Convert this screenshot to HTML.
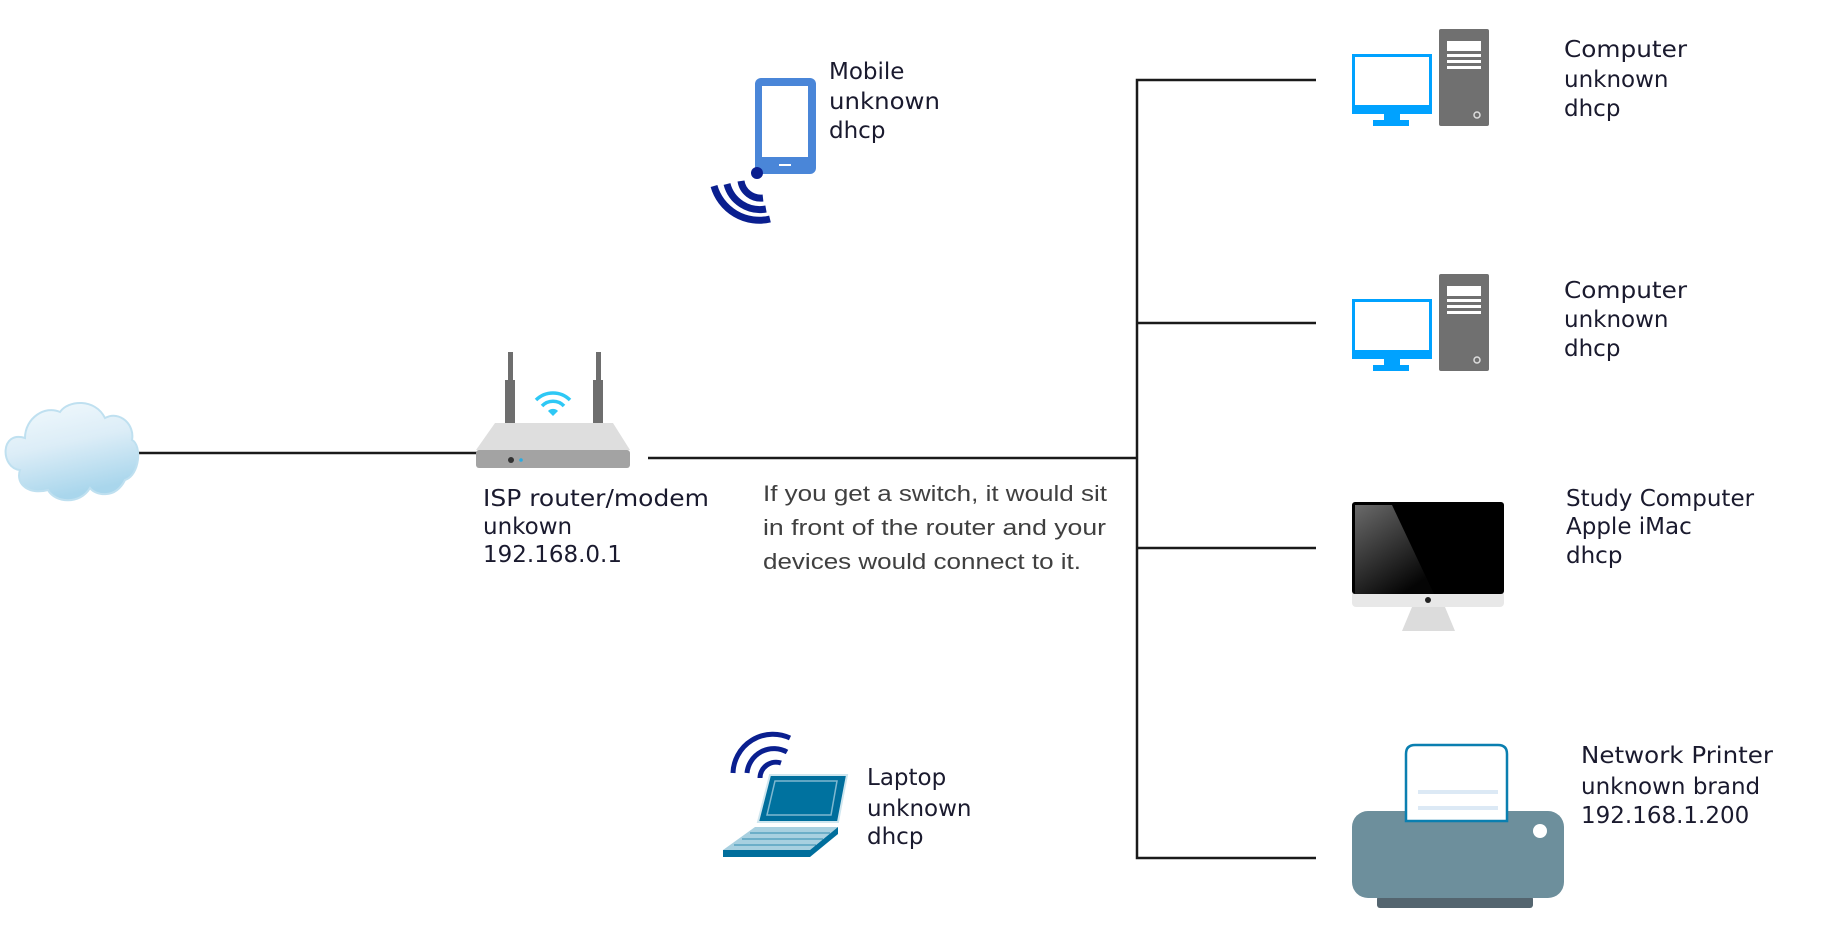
<!DOCTYPE html>
<html><head><meta charset="utf-8"><style>html,body{margin:0;padding:0;background:#fff}svg{display:block}</style></head>
<body>
<svg width="1827" height="945" viewBox="0 0 1827 945" xmlns="http://www.w3.org/2000/svg">
<defs>
<linearGradient id="cl" x1="0" y1="0" x2="0.3" y2="1"><stop offset="0" stop-color="#f3fafd"/><stop offset="0.5" stop-color="#dcedf7"/><stop offset="1" stop-color="#a9d6ec"/></linearGradient>
<linearGradient id="scr" x1="0" y1="0" x2="0.6" y2="1"><stop offset="0" stop-color="#6a6a6a"/><stop offset="1" stop-color="#050505"/></linearGradient>
</defs>
<g stroke="#1a1a1a" stroke-width="2.5" fill="none">
<line x1="137" y1="453" x2="477" y2="453"/>
<line x1="648" y1="458" x2="1137" y2="458"/>
<polyline points="1316,80 1137,80 1137,858 1316,858"/>
<line x1="1137" y1="323" x2="1316" y2="323"/>
<line x1="1137" y1="548" x2="1316" y2="548"/>
</g>
<path d="M20,470 C0,468 0,430 25,438 C25,418 45,405 60,412 C68,400 95,398 105,418 C120,410 135,425 132,440 C142,445 140,475 125,480 C115,500 95,495 90,488 C80,505 55,503 48,490 C30,495 15,485 20,470 Z" fill="url(#cl)" stroke="#bfe0f0" stroke-width="2"/>
<rect x="505" y="380" width="10" height="45" fill="#6e6e6e"/><rect x="508" y="352" width="5" height="30" fill="#6e6e6e"/>
<rect x="593" y="380" width="10" height="45" fill="#6e6e6e"/><rect x="596" y="352" width="5" height="30" fill="#6e6e6e"/>
<polygon points="495,423 613,423 630,450 476,450" fill="#dedede"/>
<rect x="476" y="450" width="154" height="18" rx="3" fill="#a3a3a3"/>
<circle cx="511" cy="460" r="3" fill="#333"/><circle cx="521" cy="460" r="1.8" fill="#29abe2"/>
<g fill="none" stroke="#2ec8f5" stroke-width="3.5"><path d="M536,400 A24,24 0 0 1 570,400"/><path d="M542,406 A15,15 0 0 1 564,406"/></g>
<path d="M548,411 A7,7 0 0 1 558,411 L553,416 Z" fill="#2ec8f5"/>
<rect x="755" y="78" width="61" height="96" rx="6" fill="#4a86d8"/>
<rect x="762" y="86" width="46" height="71" fill="#fff"/>
<rect x="779" y="164" width="12" height="2" fill="#fff"/>
<circle cx="757" cy="173" r="6" fill="#0a1f8f"/>
<g fill="none" stroke="#0a1f8f" stroke-width="7"><path d="M741,181 A20,20 0 0 0 763,198"/><path d="M727,184 A34,34 0 0 0 766,209"/><path d="M714,186 A47,47 0 0 0 770,219"/></g>
<g id="pc">
<rect x="1352" y="54" width="80" height="60" fill="#00a2ff"/><rect x="1355" y="57" width="74" height="48" fill="#fff"/>
<rect x="1384" y="114" width="16" height="7" fill="#00a2ff"/><rect x="1373" y="120" width="36" height="6" fill="#00a2ff"/>
<rect x="1439" y="29" width="50" height="97" rx="2" fill="#707070"/>
<rect x="1447" y="41" width="34" height="10" fill="#fff"/><rect x="1447" y="54" width="34" height="3" fill="#fff"/><rect x="1447" y="60" width="34" height="3" fill="#fff"/><rect x="1447" y="66" width="34" height="3" fill="#fff"/>
<circle cx="1477" cy="115" r="3" fill="none" stroke="#ddd" stroke-width="1.5"/>
</g>
<use href="#pc" transform="translate(0,245)"/>
<rect x="1352" y="502" width="152" height="105" rx="4" fill="#e8e8e8"/>
<rect x="1352" y="502" width="152" height="92" rx="3" fill="#000"/>
<polygon points="1355,505 1392,505 1434,594 1355,594" fill="url(#scr)"/>
<circle cx="1428" cy="600" r="3" fill="#222"/>
<polygon points="1412,607 1445,607 1455,631 1402,631" fill="#dcdcdc"/>
<g fill="none" stroke="#0a1f8f" stroke-width="5"><path d="M733,773 A40,40 0 0 1 790,738"/><path d="M747,773 A27,27 0 0 1 787,752"/><path d="M760,778 A16,16 0 0 1 781,763"/></g>
<polygon points="770,775 847,775 838,822 758,822" fill="#006e9c" stroke="#cfe6ef" stroke-width="2"/>
<polygon points="775,781 837,781 831,815 767,815" fill="#00729f" stroke="#7fb8d0" stroke-width="1.5"/>
<polygon points="755,827 838,827 810,850 723,850" fill="#a8d0e0"/>
<polygon points="723,850 810,850 838,827 838,834 810,857 723,857" fill="#006e9c"/>
<g stroke="#006e9c" stroke-width="1" opacity="0.7"><line x1="750" y1="833" x2="830" y2="833"/><line x1="742" y1="839" x2="823" y2="839"/><line x1="734" y1="845" x2="816" y2="845"/></g>
<rect x="1377" y="896" width="156" height="12" rx="3" fill="#54656f"/>
<rect x="1352" y="811" width="212" height="87" rx="16" fill="#6d8f9c"/>
<path d="M1406,821 L1406,754 Q1406,745 1415,745 L1498,745 Q1507,745 1507,754 L1507,821 Z" fill="#fff" stroke="#0a7fb0" stroke-width="2.5"/>
<rect x="1418" y="790" width="80" height="4" fill="#dce9f5"/><rect x="1418" y="806" width="80" height="4" fill="#dce9f5"/>
<circle cx="1540" cy="831" r="7" fill="#fff"/>
<g font-family="DejaVu Sans, sans-serif" font-size="23" fill="#1a1a2e">
<text x="483" y="506" textLength="226" lengthAdjust="spacingAndGlyphs">ISP router/modem</text>
<text x="483" y="534">unkown</text>
<text x="483" y="562">192.168.0.1</text>
<text x="829" y="79">Mobile</text>
<text x="829" y="109" textLength="111" lengthAdjust="spacingAndGlyphs">unknown</text>
<text x="829" y="138">dhcp</text>
<text x="1564" y="57" textLength="123" lengthAdjust="spacingAndGlyphs">Computer</text>
<text x="1564" y="87">unknown</text>
<text x="1564" y="116">dhcp</text>
<text x="1564" y="298" textLength="123" lengthAdjust="spacingAndGlyphs">Computer</text>
<text x="1564" y="327">unknown</text>
<text x="1564" y="356">dhcp</text>
<text x="1566" y="506">Study Computer</text>
<text x="1566" y="534">Apple iMac</text>
<text x="1566" y="563">dhcp</text>
<text x="1581" y="763" textLength="192" lengthAdjust="spacingAndGlyphs">Network Printer</text>
<text x="1581" y="794">unknown brand</text>
<text x="1581" y="823">192.168.1.200</text>
<text x="867" y="785">Laptop</text>
<text x="867" y="816">unknown</text>
<text x="867" y="844">dhcp</text>
</g>
<g font-family="Liberation Sans, sans-serif" font-size="22" fill="#404040">
<text x="763" y="501" textLength="344" lengthAdjust="spacingAndGlyphs">If you get a switch, it would sit</text>
<text x="763" y="535" textLength="343" lengthAdjust="spacingAndGlyphs">in front of the router and your</text>
<text x="763" y="569" textLength="318" lengthAdjust="spacingAndGlyphs">devices would connect to it.</text>
</g>
</svg>
</body></html>
